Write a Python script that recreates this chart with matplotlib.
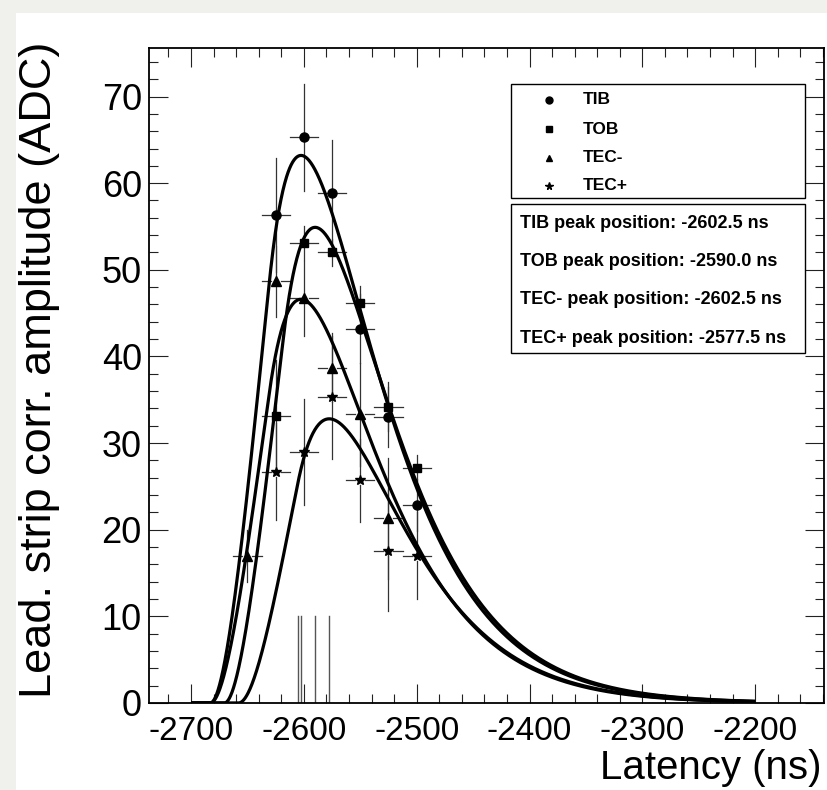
import numpy as np
import matplotlib
matplotlib.use("Agg")
import matplotlib.pyplot as plt
from matplotlib.patches import Rectangle
from matplotlib.ticker import MultipleLocator

# ---- data ----
tib_x = [-2625, -2600, -2575, -2550, -2525, -2500]
tib_y = [56.3, 65.3, 58.9, 43.2, 33.0, 22.8]
tib_err = [6.6, 6.2, 6.1, 4.0, 3.5, 3.0]

tob_x = [-2625, -2600, -2575, -2550, -2525, -2500]
tob_y = [33.1, 53.1, 52.0, 46.2, 34.2, 27.1]
tob_err = [6.5, 2.0, 1.6, 1.9, 2.8, 1.5]

tecm_x = [-2650, -2625, -2600, -2575, -2550, -2525]
tecm_y = [17.0, 48.7, 46.7, 38.7, 33.3, 21.3]
tecm_err = [3.0, 4.1, 4.3, 4.0, 6.0, 7.0]

tecp_x = [-2625, -2600, -2575, -2550, -2525, -2500]
tecp_y = [26.7, 29.0, 35.3, 25.7, 17.6, 17.0]
tecp_err = [5.6, 6.1, 7.1, 4.8, 7.0, 5.0]

bin_half = 12.5

# fit results: peak position (ns) and peak amplitude (ADC)
names = ["TIB", "TOB", "TEC-", "TEC+"]
peak_pos = [-2602.5, -2590.0, -2602.5, -2577.5]
peak_amp = [63.2, 54.9, 46.6, 32.8]
tau = 50.0      # CR-RC shaping time
window = 52.0   # box convolution width

# thin vertical markers at the bottom
marker_lines = [-2605.0, -2602.5, -2590.0, -2577.5]
marker_height = 10.0

W, H = 827, 790
plt.rcParams["font.family"] = ["Liberation Sans", "DejaVu Sans"]
plt.rcParams["axes.unicode_minus"] = False

fig = plt.figure(figsize=(W / 100, H / 100), dpi=100, facecolor="#f0f0ec")

# white pad inside grey frame
fig.patches.append(Rectangle((16 / W, 0), 1, 1 - 13 / H, transform=fig.transFigure,
                             facecolor="white", edgecolor="none", zorder=-10))

ax = fig.add_axes([148.7 / W, 1 - 703 / H, (824 - 148.7) / W, (703 - 48) / H])
ax.set_facecolor("white")
ax.set_xlim(-2737.5, -2139)
ax.set_ylim(0, 75.6)


def G(u):
    u = np.maximum(u, 0)
    return tau ** 2 - tau * np.exp(-u / tau) * (u + tau)


def pulse(t, t0):
    return (G(t - t0 + window / 2) - G(t - t0 - window / 2)) / window


# offset between onset parameter and peak
ug = np.linspace(-window, 400, 20001)
shape0 = pulse(ug, 0.0)
offset = ug[np.argmax(shape0)]
smax = shape0.max()

t = np.linspace(-2700, -2200, 1500)
for p, a in zip(peak_pos, peak_amp):
    y = pulse(t, p - offset) / smax * a
    ax.plot(t, y, color="black", lw=2.3, zorder=3, solid_capstyle="butt")

for xm in marker_lines:
    ax.plot([xm, xm], [0, marker_height], color="#555555", lw=1.0, zorder=2)

# error bars with a gap around the marker
fig.canvas.draw()
bb = ax.get_window_extent()
sx = bb.width / (ax.get_xlim()[1] - ax.get_xlim()[0])
sy = bb.height / (ax.get_ylim()[1] - ax.get_ylim()[0])
gx = 5 / sx
gy = 5 / sy


def draw_points(xs, ys, es, marker, ms):
    for x, y, e in zip(xs, ys, es):
        ax.plot([x - bin_half, x - gx], [y, y], color="#333333", lw=0.9, zorder=2)
        ax.plot([x + gx, x + bin_half], [y, y], color="#333333", lw=0.9, zorder=2)
        if e > gy:
            ax.plot([x, x], [y + gy, y + e], color="#333333", lw=0.9, zorder=2)
            ax.plot([x, x], [y - gy, y - e], color="#333333", lw=0.9, zorder=2)
    ax.plot(xs, ys, ls="none", marker=marker, ms=ms, color="black", zorder=4)


draw_points(tib_x, tib_y, tib_err, "o", 6.5)
draw_points(tob_x, tob_y, tob_err, "s", 6.0)
draw_points(tecm_x, tecm_y, tecm_err, "^", 6.5)
draw_points(tecp_x, tecp_y, tecp_err, "*", 7.0)

# axes styling (ROOT-like)
ax.xaxis.set_major_locator(MultipleLocator(100))
ax.xaxis.set_minor_locator(MultipleLocator(20))
ax.yaxis.set_major_locator(MultipleLocator(10))
ax.yaxis.set_minor_locator(MultipleLocator(2))
ax.tick_params(which="both", direction="in", top=True, right=True, width=0.8, color="#222222")
ax.tick_params(which="major", length=14)
ax.tick_params(which="minor", length=6.5)
ax.tick_params(axis="x", which="major", labelsize=24, pad=9)
ax.tick_params(axis="y", which="major", labelsize=26, pad=5)
for s in ax.spines.values():
    s.set_linewidth(1.3)

fig.text(822 / W, 1 - 779 / H, "Latency (ns)", ha="right", va="baseline", fontsize=29)
fig.text(40 / W, 1 - 42 / H, "Lead. strip corr. amplitude (ADC)", rotation=90,
         ha="center", va="top", fontsize=32.5)


def px(x, y):
    return x / W, 1 - y / H


# legend box
fig.patches.append(Rectangle(px(511, 198), (805 - 511) / W, (198 - 84) / H,
                             transform=fig.transFigure, facecolor="white",
                             edgecolor="black", lw=1.0, zorder=5))
leg_markers = ["o", "s", "^", "*"]
leg_ms = [5, 5, 5, 5.5]
leg_rows = [100, 129, 158, 186]
for nm, mk, ms, yr in zip(names, leg_markers, leg_ms, leg_rows):
    fig.add_artist(plt.Line2D([549 / W], [1 - yr / H], marker=mk, ms=ms, color="black",
                              ls="none", transform=fig.transFigure, zorder=6))
    fig.text(583 / W, 1 - yr / H, nm, ha="left", va="center", fontsize=12.5,
             fontweight="bold", zorder=6)

# peak position box
fig.patches.append(Rectangle(px(511, 353), (805 - 511) / W, (353 - 204) / H,
                             transform=fig.transFigure, facecolor="white",
                             edgecolor="black", lw=1.0, zorder=5))
txt_rows = [224, 262, 300, 338]
for nm, p, yr in zip(names, peak_pos, txt_rows):
    fig.text(520 / W, 1 - yr / H, f"{nm} peak position: {p:.1f} ns", ha="left",
             va="center", fontsize=13, fontweight="bold", zorder=6)

fig.savefig("out.png", dpi=100, facecolor=fig.get_facecolor())
